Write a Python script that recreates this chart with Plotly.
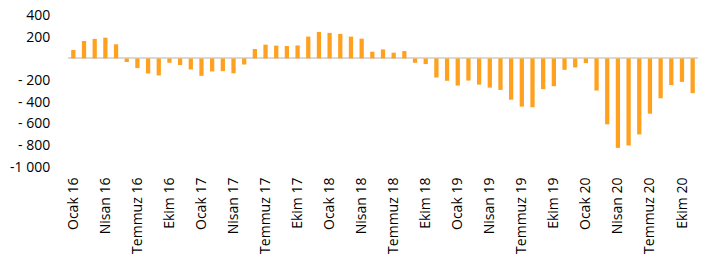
import plotly.graph_objects as go

months = ["Ocak", "Şubat", "Mart", "Nisan", "Mayıs", "Haziran", "Temmuz",
          "Ağustos", "Eylül", "Ekim", "Kasım", "Aralık"]
years = ["16", "17", "18", "19", "20"]
categories = [f"{m} {y}" for y in years for m in months][:59]

values = [78, 161, 180, 191, 130, -33, -89, -139, -157, -40, -61, -102,
          -160, -120, -117, -137, -56, 87, 127, 118, 115, 120, 201, 244,
          235, 226, 201, 182, 62, 83, 53, 68, -40, -52, -176, -206, -250, -204,
          -241, -269, -290, -380, -444, -450, -283, -256, -105, -83, -43, -296,
          -607, -824, -802, -700, -509, -367, -246, -216, -320]

y_tickvals = [-1000, -800, -600, -400, -200, 0, 200, 400]
y_ticktext = ["-1 000", "- 800", "- 600", "- 400", "- 200", "", "200", "400"]

x_idx = list(range(len(categories)))
x_tickvals = x_idx[::3]
x_ticktext = categories[::3]

fig = go.Figure(go.Bar(x=x_idx, y=values, marker_color="#FFA11F",
                       marker_line_width=0, hovertext=categories))

font = dict(family="Open Sans", size=14, color="#000000")
fig.update_layout(
    width=707, height=259,
    margin=dict(l=68, r=9, t=15, b=92, autoexpand=False),
    plot_bgcolor="white", paper_bgcolor="white",
    bargap=0.6, showlegend=False, font=font,
)
fig.update_xaxes(range=[-0.5, 58.5], tickmode="array", tickvals=x_tickvals,
                 ticktext=x_ticktext, tickangle=-90, showgrid=False,
                 zeroline=False, showline=False, ticks="outside", ticklen=4,
                 tickcolor="rgba(0,0,0,0)", tickfont=font, automargin=False)
fig.update_yaxes(range=[-1000, 400], tickmode="array", tickvals=y_tickvals,
                 ticktext=y_ticktext, showgrid=False, zeroline=True,
                 zerolinecolor="#d9d9d9", zerolinewidth=2, showline=False,
                 ticks="outside", ticklen=14, tickcolor="rgba(0,0,0,0)",
                 tickfont=font, automargin=False)

fig.write_html("out.html", config={"displayModeBar": False},
               post_script="document.body.style.margin='0';")
